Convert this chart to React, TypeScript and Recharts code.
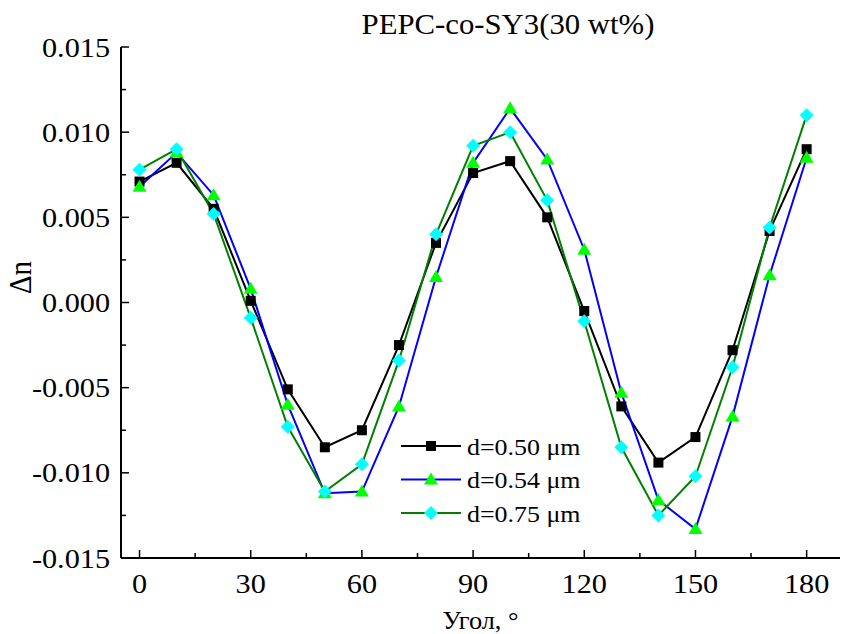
import React from 'react';
import { LineChart, Line, XAxis, YAxis, Legend } from 'recharts';

const angles = [0, 10, 20, 30, 40, 50, 60, 70, 80, 90, 100, 110, 120, 130, 140, 150, 160, 170, 180];
const d050 = [0.0071, 0.0082, 0.0055, 0.0001, -0.0051, -0.0085, -0.0075, -0.0025, 0.0035, 0.0076, 0.0083, 0.0050, -0.0005, -0.0061, -0.0094, -0.0079, -0.0028, 0.0042, 0.0090];
const d054 = [0.0068, 0.0088, 0.0063, 0.0008, -0.0060, -0.0112, -0.0111, -0.0061, 0.0015, 0.0082, 0.0114, 0.0084, 0.0031, -0.0053, -0.0116, -0.0133, -0.0067, 0.0016, 0.0085];
const d075 = [0.0078, 0.0090, 0.0052, -0.0009, -0.0073, -0.0111, -0.0095, -0.0034, 0.0040, 0.0092, 0.0100, 0.0060, -0.0011, -0.0085, -0.0125, -0.0102, -0.0038, 0.0044, 0.0110];

const xMajorTicks = [0, 30, 60, 90, 120, 150, 180];
const xMinorTicks = [15, 45, 75, 105, 135, 165];
const yMajorTicks = [-0.015, -0.01, -0.005, 0, 0.005, 0.01, 0.015];
const yMinorTicks = [-0.0125, -0.0075, -0.0025, 0.0025, 0.0075, 0.0125];

const seriesNames = ['d=0.50 \u03bcm', 'd=0.54 \u03bcm', 'd=0.75 \u03bcm'];
const titleText = 'PEPC-co-SY3(30 wt%)';
const xLabelText = '\u0423\u0433\u043e\u043b, \u00b0';
const yLabelText = '\u0394n';

const data = angles.map((a, i) => ({ angle: a, s1: d050[i], s2: d054[i], s3: d075[i] }));
const xTicks = [...xMajorTicks, ...xMinorTicks].sort((a, b) => a - b);
const yTicks = [...yMajorTicks, ...yMinorTicks].sort((a, b) => a - b);

const FONT = "'Liberation Serif', 'Times New Roman', serif";
const SX = 1.08;
const TICK_FS = 28;
const X_MARGIN = 16;
const Y_MARGIN = 11;
const MAJ = 8;
const MIN = 5;

const isMajor = (arr: number[], v: number) => arr.some((m) => Math.abs(m - v) < 1e-9);

const BottomTick = (props: any) => {
  const { x, y, payload } = props;
  const v = payload.value;
  const major = isMajor(xMajorTicks, v);
  const axisY = y - X_MARGIN;
  return (
    <g>
      <line x1={x} x2={x} y1={axisY} y2={axisY - (major ? MAJ : MIN)} stroke="#000" strokeWidth={1.5} />
      {major && (
        <text transform={`translate(${x},${axisY + 35}) scale(${SX},1)`} textAnchor="middle" fontFamily={FONT} fontSize={TICK_FS} fill="#000">
          {v}
        </text>
      )}
    </g>
  );
};

const LeftTick = (props: any) => {
  const { x, y, payload } = props;
  const v = payload.value;
  const major = isMajor(yMajorTicks, v);
  const axisX = x + Y_MARGIN;
  return (
    <g>
      <line x1={axisX} x2={axisX + (major ? MAJ : MIN)} y1={y} y2={y} stroke="#000" strokeWidth={1.5} />
      {major && (
        <text transform={`translate(${axisX - 11},${y + 9.5}) scale(${SX},1)`} textAnchor="end" fontFamily={FONT} fontSize={TICK_FS} fill="#000">
          {Math.abs(v) < 1e-12 ? '0.000' : v.toFixed(3)}
        </text>
      )}
    </g>
  );
};

const TopTick = (props: any) => {
  const { x, y, payload } = props;
  const major = isMajor(xMajorTicks, payload.value);
  return <line x1={x} x2={x} y1={y} y2={y + (major ? MAJ : MIN)} stroke="#000" strokeWidth={1.5} />;
};

const RightTick = (props: any) => {
  const { x, y, payload } = props;
  const major = isMajor(yMajorTicks, payload.value);
  return <line x1={x} x2={x - (major ? MAJ : MIN)} y1={y} y2={y} stroke="#000" strokeWidth={1.5} />;
};

const Square = (p: any) => {
  const { cx, cy, index } = p;
  if (cx == null || cy == null) return <g key={index} />;
  return <rect key={index} x={cx - 5} y={cy - 5} width={10} height={10} fill="#000" />;
};
const Triangle = (p: any) => {
  const { cx, cy, index } = p;
  if (cx == null || cy == null) return <g key={index} />;
  return <polygon key={index} points={`${cx},${cy - 7} ${cx - 7},${cy + 5} ${cx + 7},${cy + 5}`} fill="#00ff00" />;
};
const Diamond = (p: any) => {
  const { cx, cy, index } = p;
  if (cx == null || cy == null) return <g key={index} />;
  return <polygon key={index} points={`${cx},${cy - 7} ${cx + 7},${cy} ${cx},${cy + 7} ${cx - 7},${cy}`} fill="#00ffff" />;
};

const legendItems = [
  { name: seriesNames[0], line: '#000000', marker: 'square' },
  { name: seriesNames[1], line: '#0000ff', marker: 'triangle' },
  { name: seriesNames[2], line: '#008000', marker: 'diamond' },
];

const LegendContent = () => (
  <svg width={200} height={105} style={{ overflow: 'visible' }}>
    {legendItems.map((it, i) => {
      const cy = 18 + i * 33.5;
      const cx = 32;
      let m;
      if (it.marker === 'square') m = <rect x={cx - 5} y={cy - 5} width={10} height={10} fill="#000" />;
      else if (it.marker === 'triangle') m = <polygon points={`${cx},${cy - 7} ${cx - 7},${cy + 5} ${cx + 7},${cy + 5}`} fill="#00ff00" />;
      else m = <polygon points={`${cx},${cy - 7} ${cx + 7},${cy} ${cx},${cy + 7} ${cx - 7},${cy}`} fill="#00ffff" />;
      return (
        <g key={i}>
          <line x1={2} x2={62} y1={cy} y2={cy} stroke={it.line} strokeWidth={2} />
          {m}
          <text transform={`translate(68,${cy + 8.5}) scale(1.08,1)`} fontFamily={FONT} fontSize={24} fill="#000">
            {it.name}
          </text>
        </g>
      );
    })}
  </svg>
);

const YLabel = (props: any) => {
  const vb = props.viewBox || { x: 0, y: 47, width: 121, height: 511 };
  const cx = vb.x + 21;
  const cy = vb.y + vb.height / 2 - 25;
  return (
    <text transform={`translate(${cx + 10},${cy}) rotate(-90) scale(1,1.08)`} textAnchor="middle" fontFamily={FONT} fontSize={29} fill="#000">
      {yLabelText}
    </text>
  );
};

const XLabel = (props: any) => {
  const vb = props.viewBox || { x: 121, y: 558, width: 719, height: 76 };
  const cx = vb.x + vb.width / 2;
  return (
    <text transform={`translate(${cx},${vb.y + 71}) scale(1.05,1)`} textAnchor="middle" fontFamily={FONT} fontSize={25} fill="#000">
      {xLabelText}
    </text>
  );
};

export default function App() {
  return (
    <div style={{ position: 'absolute', left: 0, top: 0, width: 842, height: 634, background: '#fff' }}>
      <div
        style={{
          position: 'absolute',
          left: 508,
          top: 7,
          transform: `translateX(-50%) scale(1.06,1)`,
          fontFamily: FONT,
          fontSize: 29,
          whiteSpace: 'nowrap',
          lineHeight: '34px',
          color: '#000',
        }}
      >
        {titleText}
      </div>
      <LineChart width={842} height={634} data={data} margin={{ top: 47, right: 2, bottom: 0, left: 0 }}>
        <XAxis
          dataKey="angle"
          type="number"
          domain={[-5, 189]}
          ticks={xTicks}
          interval={0}
          height={76}
          tickSize={0}
          tickMargin={X_MARGIN}
          tickLine={false}
          axisLine={{ stroke: '#000', strokeWidth: 2 }}
          tick={BottomTick}
          label={XLabel}
        />
        <XAxis
          xAxisId="top"
          orientation="top"
          dataKey="angle"
          type="number"
          domain={[-5, 189]}
          ticks={xTicks}
          interval={0}
          height={0}
          tickSize={0}
          tickMargin={0}
          tickLine={false}
          axisLine={{ stroke: '#000', strokeWidth: 2 }}
          tick={TopTick}
        />
        <YAxis
          type="number"
          domain={[-0.015, 0.015]}
          ticks={yTicks}
          interval={0}
          width={121}
          tickSize={0}
          tickMargin={Y_MARGIN}
          tickLine={false}
          axisLine={{ stroke: '#000', strokeWidth: 2 }}
          tick={LeftTick}
          label={YLabel}
        />
        <YAxis
          yAxisId="right"
          orientation="right"
          type="number"
          domain={[-0.015, 0.015]}
          ticks={yTicks}
          interval={0}
          width={0}
          tickSize={0}
          tickMargin={0}
          tickLine={false}
          axisLine={{ stroke: '#000', strokeWidth: 2 }}
          tick={RightTick}
        />
        <Line dataKey="s1" name={seriesNames[0]} stroke="#000000" strokeWidth={2} dot={Square} activeDot={false} isAnimationActive={false} />
        <Line dataKey="s2" name={seriesNames[1]} stroke="#0000ff" strokeWidth={2} dot={Triangle} activeDot={false} isAnimationActive={false} />
        <Line dataKey="s3" name={seriesNames[2]} stroke="#008000" strokeWidth={2} dot={Diamond} activeDot={false} isAnimationActive={false} />
        <Legend
          layout="vertical"
          align="center"
          verticalAlign="middle"
          content={LegendContent}
          wrapperStyle={{ position: 'absolute', left: 399, top: 428, width: 200, height: 105 }}
        />
      </LineChart>
    </div>
  );
}
